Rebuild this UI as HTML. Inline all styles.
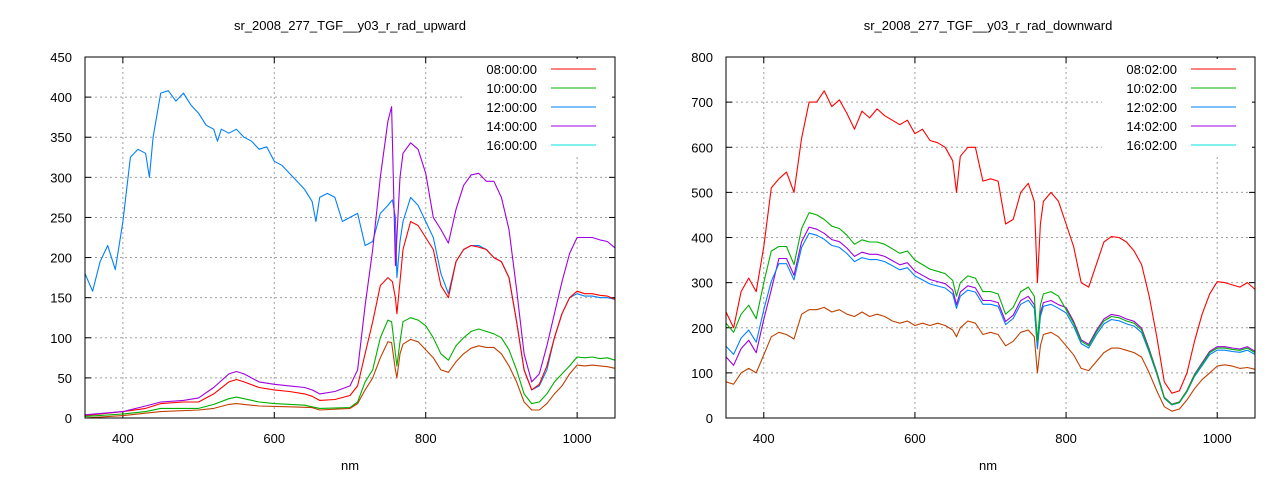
<!DOCTYPE html>
<html><head><meta charset="utf-8"><style>
html,body{margin:0;padding:0;background:#fff}
svg{display:block;font-family:"Liberation Sans",sans-serif;font-size:13px}
</style></head><body>
<svg id="s" width="1280" height="480" xmlns="http://www.w3.org/2000/svg">
<rect width="1280" height="480" fill="#fff"/>
<text x="350" y="30" text-anchor="middle" fill="#000">sr_2008_277_TGF__y03_r_rad_upward</text>
<text x="988" y="30" text-anchor="middle" fill="#000">sr_2008_277_TGF__y03_r_rad_downward</text>
<text x="350" y="470" text-anchor="middle">nm</text>
<text x="988" y="470" text-anchor="middle">nm</text>
<g id="g"></g>
</svg>
<script>
var NS="http://www.w3.org/2000/svg",g=document.getElementById('g');
function el(t,a,txt){var e=document.createElementNS(NS,t);for(var k in a)e.setAttribute(k,a[k]);if(txt!==undefined)e.textContent=txt;g.appendChild(e);return e;}
function P(s){return s.trim().split(/\s+/).map(function(p){var q=p.split(':');return [+q[0],+q[1]];});}
function plot(o){
 var X=function(n){return o.x0+(n-350)*(o.x1-o.x0)/700;};
 var Y=function(v){return o.y1-v*(o.y1-o.y0)/o.ymax;};
 var t;
 for(t=400;t<=1000;t+=200){var x=X(t);
  el('line',{x1:x,x2:x,y1:o.y0,y2:o.y1,stroke:'#a0a0a0','stroke-dasharray':'2,3'});
  el('line',{x1:x,x2:x,y1:o.y1,y2:o.y1-6,stroke:'#000'});el('line',{x1:x,x2:x,y1:o.y0,y2:o.y0+6,stroke:'#000'});
  el('text',{x:x,y:o.y1+25,'text-anchor':'middle'},t);}
 for(t=0;t<=o.ymax;t+=o.ys){var y=Y(t);
  if(t>0&&t<o.ymax)el('line',{x1:o.x0,x2:o.x1,y1:y,y2:y,stroke:'#a0a0a0','stroke-dasharray':'2,3'});
  el('line',{x1:o.x0,x2:o.x0+6,y1:y,y2:y,stroke:'#000'});el('line',{x1:o.x1,x2:o.x1-6,y1:y,y2:y,stroke:'#000'});
  el('text',{x:o.x0-13,y:y+5,'text-anchor':'end'},t);}
 el('rect',{x:o.x1-153,y:o.y0+2,width:150,height:96,fill:'#fff'});
 o.series.forEach(function(s,i){
  var pts=s.d.map(function(p){return X(p[0]).toFixed(1)+','+Y(Math.max(0,p[1])).toFixed(1);}).join(' ');
  el('polyline',{points:pts,fill:'none',stroke:s.c,'stroke-width':1.1,'stroke-linejoin':'round'});
  var ly=o.y0+12+i*19;
  el('text',{x:o.x1-78,y:ly+5,'text-anchor':'end'},o.labels[i]);
  el('line',{x1:o.x1-64,x2:o.x1-19,y1:ly,y2:ly,stroke:o.lc[i]});
 });
 el('rect',{x:o.x0,y:o.y0,width:o.x1-o.x0,height:o.y1-o.y0,fill:'none',stroke:'#000'});
}
var lc=['#ff0000','#00b000','#0080ff','#a000e0','#00e0e0'];
var uB=P("350:180 360:158 370:195 380:215 390:185 400:245 410:325 420:335 430:330 435:300 440:350 450:405 460:408 470:395 480:405 490:390 500:380 510:365 520:360 525:345 530:360 540:355 550:360 560:350 570:345 580:335 590:338 600:320 610:315 620:305 630:295 640:285 650:270 655:245 660:275 670:280 680:275 690:245 700:250 710:255 720:215 730:220 740:255 750:265 756:272 760:250 762:175 766:220 770:245 780:275 790:265 800:245 810:225 820:180 830:155 840:195 850:210 860:215 870:215 880:210 890:200 900:195 910:175 920:120 930:60 940:35 950:40 960:60 970:100 980:130 990:150 1000:155 1010:152 1020:152 1030:150 1040:150 1050:148");
var uR=P("350:3 400:8 430:12 450:18 480:20 500:20 520:30 540:45 550:48 560:45 580:38 600:35 620:33 640:30 650:27 660:22 680:23 700:28 710:40 720:80 730:120 740:165 750:175 756:170 760:150 762:130 766:170 770:210 780:245 790:240 800:225 810:210 820:165 830:150 840:195 850:210 860:215 870:213 880:210 890:200 900:195 910:175 920:120 930:60 940:35 950:42 960:65 970:100 980:130 990:150 1000:158 1010:155 1020:155 1030:153 1040:152 1050:148");
var uP=P("350:4 400:8 430:15 450:20 480:22 500:25 520:38 540:55 550:58 560:55 580:45 600:42 620:40 640:38 650:35 660:30 680:33 700:40 710:60 720:140 730:210 740:300 750:370 755:388 760:190 766:300 770:330 780:343 790:335 800:305 810:250 820:235 830:218 840:260 850:290 860:303 870:305 880:295 890:295 900:275 910:235 920:160 930:80 940:45 950:55 960:90 970:130 980:170 990:205 1000:225 1010:225 1020:225 1030:222 1040:220 1050:212");
var uG=P("350:2 400:5 430:8 450:12 500:12 520:17 540:24 550:26 560:24 580:20 600:18 640:16 660:12 700:13 710:20 720:45 730:60 740:100 750:122 755:120 760:80 762:65 766:95 770:120 780:125 790:122 800:115 810:100 820:80 830:72 840:90 850:100 860:108 870:111 880:108 890:105 900:100 910:85 920:60 930:30 940:18 950:20 960:30 970:45 980:55 990:65 1000:76 1010:75 1020:76 1030:74 1040:75 1050:72");
var uO=P("350:0 400:3 450:8 500:10 520:12 540:17 550:18 560:17 580:15 620:14 650:13 660:10 700:12 710:18 720:35 730:50 740:75 750:95 755:94 760:60 762:50 766:80 770:92 780:98 790:95 800:85 810:75 820:60 830:57 840:70 850:80 860:87 870:90 880:88 890:88 900:80 910:65 920:45 930:20 940:10 950:10 960:18 970:30 980:40 990:55 1000:66 1010:65 1020:66 1030:65 1040:64 1050:62");
plot({x0:85,x1:615,y0:57,y1:418,ymax:450,ys:50,labels:['08:00:00','10:00:00','12:00:00','14:00:00','16:00:00'],lc:lc,
 series:[{d:uB,c:'#0080ff'},{d:uR,c:'#ff0000'},{d:uP,c:'#a000e0'},{d:uG,c:'#00b000'},{d:uO,c:'#c04000'}]});
var dR=P("350:235 360:200 370:280 380:310 390:280 400:380 410:510 420:530 430:545 440:500 450:620 460:700 470:700 480:725 490:690 500:705 510:675 520:640 530:680 540:665 550:685 560:670 570:660 580:650 590:660 600:630 610:640 620:615 630:610 640:600 650:570 655:500 660:580 670:600 680:600 690:525 700:530 710:525 720:430 730:440 740:500 750:520 758:480 762:300 766:430 770:480 780:500 790:480 800:430 810:380 820:300 830:290 840:340 850:390 860:402 870:400 880:390 890:370 900:340 910:270 920:180 930:80 940:55 950:60 960:100 970:170 980:230 990:275 1000:302 1010:300 1020:295 1030:290 1040:300 1050:285");
var dG=P("350:210 360:190 370:230 380:250 390:220 400:300 410:370 420:380 430:380 440:340 450:420 460:455 470:450 480:440 490:425 500:420 510:405 520:385 530:395 540:390 550:390 560:385 570:375 580:365 590:370 600:350 610:340 620:330 630:325 640:320 650:305 655:270 660:300 670:315 680:310 690:280 700:280 710:275 720:230 730:245 740:280 750:290 758:270 762:170 766:250 770:275 780:280 790:270 800:240 810:210 820:170 830:160 840:190 850:215 860:225 870:222 880:215 890:210 900:195 910:150 920:100 930:45 940:30 950:35 960:60 970:95 980:120 990:145 1000:155 1010:155 1020:152 1030:150 1040:155 1050:145");
var dO=P("350:80 360:75 370:100 380:110 390:100 400:140 410:180 420:190 430:185 440:175 450:230 460:240 470:240 480:245 490:235 500:240 510:230 520:225 530:235 540:225 550:230 560:225 570:215 580:210 590:215 600:205 610:210 620:205 630:210 640:205 650:195 655:180 660:200 670:215 680:210 690:185 700:190 710:185 720:160 730:170 740:190 750:195 758:180 762:100 766:160 770:185 780:190 790:180 800:160 810:140 820:110 830:105 840:125 850:145 860:155 870:155 880:150 890:145 900:135 910:100 920:60 930:25 940:15 950:20 960:40 970:65 980:85 990:100 1000:115 1010:118 1020:115 1030:110 1040:112 1050:108");
var dB=dG.map(function(p){var f=p[0]<800?0.9:0.97;return [p[0],p[1]*f-(p[0]<420?30:0)];});
var dP=dG.map(function(p){var f=p[0]<800?0.93:1.02;return [p[0],p[1]*f-(p[0]<420?60:0)];});
plot({x0:726,x1:1255,y0:57,y1:418,ymax:800,ys:100,labels:['08:02:00','10:02:00','12:02:00','14:02:00','16:02:00'],lc:lc,
 series:[{d:dO,c:'#c04000'},{d:dP,c:'#a000e0'},{d:dB,c:'#0080ff'},{d:dG,c:'#00b000'},{d:dR,c:'#ff0000'}]});
</script>
</body></html>
